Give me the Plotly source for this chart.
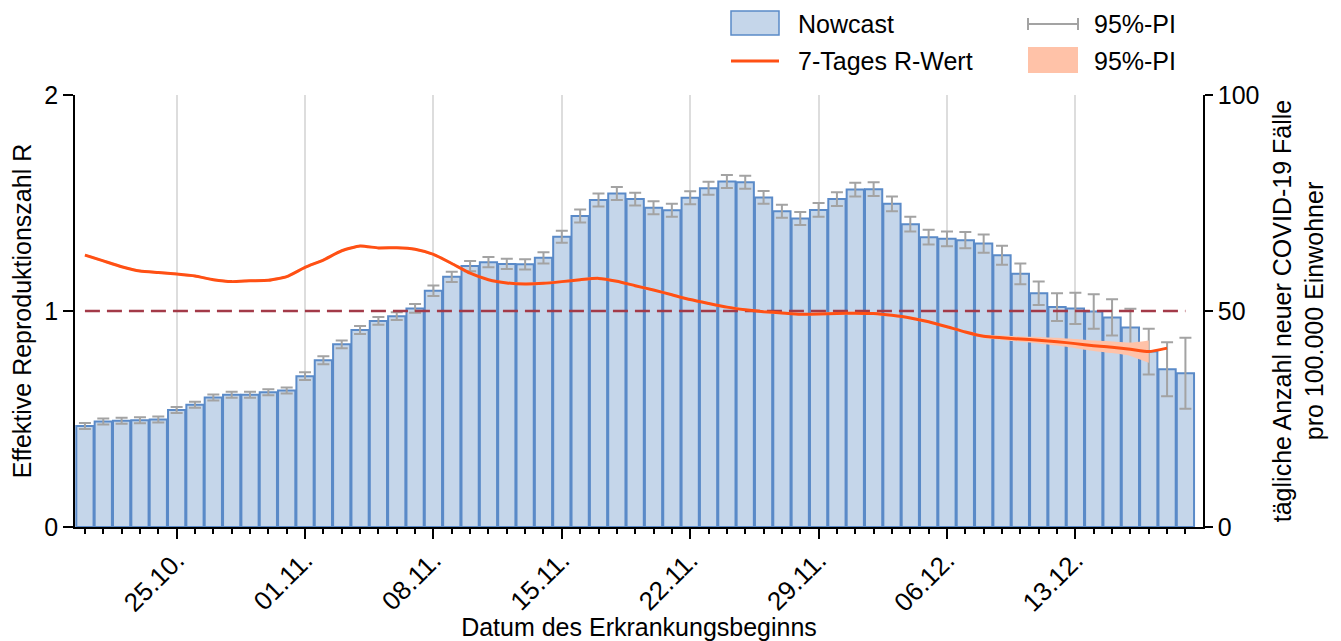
import plotly.graph_objects as go
import pandas as pd

# ---------------- data ----------------
dates = [d.strftime("%Y-%m-%d") for d in pd.date_range("2020-10-20", "2020-12-19", freq="D")]

nowcast = [23.4, 24.4, 24.6, 24.7, 24.9, 27.1, 28.3, 30.0, 30.6, 30.6, 31.2, 31.6,
           34.9, 38.6, 42.3, 45.6, 47.7, 48.8, 50.6, 54.7, 57.9, 60.4, 61.3, 60.9,
           60.8, 62.3, 67.2, 72.0, 75.7, 77.2, 75.9, 73.9, 73.3, 76.2, 78.4, 80.0,
           79.8, 76.3, 73.1, 71.4, 73.4, 75.9, 78.1, 78.2, 74.8, 70.1, 67.1, 66.7,
           66.4, 65.6, 62.9, 58.6, 54.1, 50.9, 50.6, 49.9, 48.5, 46.2, 40.6, 36.5,
           35.6]
nowcast_pi = [0.7, 0.7, 0.7, 0.7, 0.7, 0.7, 0.7, 0.7, 0.7, 0.7, 0.7, 0.7,
              0.9, 0.9, 0.9, 0.9, 0.9, 0.9, 1.0, 1.2, 1.2, 1.2, 1.2, 1.2,
              1.2, 1.3, 1.4, 1.5, 1.5, 1.5, 1.5, 1.5, 1.5, 1.5, 1.5, 1.5,
              1.5, 1.5, 1.5, 1.5, 1.6, 1.6, 1.6, 1.6, 1.7, 1.7, 1.7, 1.7,
              1.9, 2.1, 2.2, 2.4, 2.7, 3.2, 3.6, 4.0, 4.2, 4.3, 5.3, 6.25,
              8.2]

r_dates = dates[:-1]
r_value = [1.259, 1.232, 1.205, 1.185, 1.178, 1.171, 1.162, 1.145, 1.136, 1.140,
           1.142, 1.159, 1.202, 1.236, 1.279, 1.301, 1.292, 1.293, 1.286, 1.262,
           1.220, 1.175, 1.145, 1.130, 1.125, 1.128, 1.136, 1.145, 1.151, 1.138,
           1.117, 1.097, 1.075, 1.053, 1.035, 1.018, 1.006, 0.997, 0.991, 0.985,
           0.986, 0.989, 0.990, 0.988, 0.980, 0.968, 0.950, 0.927, 0.903, 0.883,
           0.876, 0.870, 0.865, 0.858, 0.849, 0.839, 0.832, 0.823, 0.812, 0.828]
r_pi = [0.006] * 49 + [0.008, 0.010, 0.012, 0.015, 0.018, 0.021, 0.024, 0.027, 0.031, 0.052]

r_threshold = 1.0

# ---------------- styles ----------------
FONT = "Liberation Sans, Arial, sans-serif"
BAR_FILL = "#C5D6EA"
BAR_LINE = "#5A8AC8"
ERR_COL = "#A3A3A3"
R_COL = "#FF5014"
BAND_COL = "#FFC2A8"
DASH_COL = "#A33A48"

# the page body has an 8px default margin; the figure starts at (8, 8)
OFF = 8
W, H = 1341 - OFF, 641 - OFF
PLOT_X0, PLOT_X1, PLOT_Y0, PLOT_Y1 = 75, 1203, 95, 527   # screen pixels
L = PLOT_X0 - OFF
T = PLOT_Y0 - OFF
PW, PH = PLOT_X1 - PLOT_X0, PLOT_Y1 - PLOT_Y0
R_ = W - L - PW
B = H - T - PH


def px(x):
    return (x - PLOT_X0) / PW


def py(y):
    return (PLOT_Y1 - y) / PH


fig = go.Figure()

fig.add_trace(go.Bar(
    x=dates, y=nowcast, name="Nowcast", yaxis="y",
    marker=dict(color=BAR_FILL, line=dict(color=BAR_LINE, width=2)),
    error_y=dict(type="data", array=nowcast_pi, color=ERR_COL, thickness=2, width=6),
    showlegend=False,
))

r_upper = [v + e for v, e in zip(r_value, r_pi)]
r_lower = [v - e for v, e in zip(r_value, r_pi)]
fig.add_trace(go.Scatter(
    x=r_dates, y=r_lower, mode="lines",
    line=dict(width=0, simplify=False, shape="spline", smoothing=0.5),
    yaxis="y2", showlegend=False, hoverinfo="skip",
))
fig.add_trace(go.Scatter(
    x=r_dates, y=r_upper, mode="lines",
    line=dict(width=0, simplify=False, shape="spline", smoothing=0.5),
    fill="tonexty", fillcolor=BAND_COL,
    yaxis="y2", name="95%-PI", showlegend=False, hoverinfo="skip",
))

fig.add_trace(go.Scatter(
    x=[dates[0], dates[-1]], y=[r_threshold, r_threshold], mode="lines",
    line=dict(color=DASH_COL, width=2.5, dash="15px,7px"),
    yaxis="y2", showlegend=False, hoverinfo="skip",
))

fig.add_trace(go.Scatter(
    x=r_dates, y=r_value, mode="lines", name="7-Tages R-Wert",
    line=dict(color=R_COL, width=3, simplify=False, shape="spline", smoothing=0.5),
    yaxis="y2", showlegend=False,
))

# ---------------- manual legend ----------------
shapes = [
    dict(type="rect", xref="paper", yref="paper", x0=px(731), x1=px(779), y0=py(35), y1=py(11),
         fillcolor=BAR_FILL, line=dict(color=BAR_LINE, width=1.5)),
    dict(type="line", xref="paper", yref="paper", x0=px(731), x1=px(779), y0=py(61), y1=py(61),
         line=dict(color=R_COL, width=3)),
    dict(type="line", xref="paper", yref="paper", x0=px(1028), x1=px(1078), y0=py(24), y1=py(24),
         line=dict(color=ERR_COL, width=2)),
    dict(type="line", xref="paper", yref="paper", x0=px(1028), x1=px(1028), y0=py(18), y1=py(30),
         line=dict(color=ERR_COL, width=2)),
    dict(type="line", xref="paper", yref="paper", x0=px(1078), x1=px(1078), y0=py(18), y1=py(30),
         line=dict(color=ERR_COL, width=2)),
    dict(type="rect", xref="paper", yref="paper", x0=px(1028), x1=px(1078), y0=py(73), y1=py(47),
         fillcolor=BAND_COL, line=dict(width=0)),
]
annotations = []
for text, x, y in [("Nowcast", 796, 24), ("7-Tages R-Wert", 796, 61), ("95%-PI", 1092, 24), ("95%-PI", 1092, 61)]:
    annotations.append(dict(text=text, xref="paper", yref="paper", x=px(x), y=py(y),
                            xanchor="left", yanchor="middle", showarrow=False,
                            font=dict(family=FONT, size=25, color="black")))

fig.update_layout(
    width=W, height=H,
    margin=dict(l=L, r=R_, t=T, b=B, pad=0, autoexpand=False),
    paper_bgcolor="white", plot_bgcolor="white",
    font=dict(family=FONT, size=24, color="black"),
    bargap=0.06,
    shapes=shapes, annotations=annotations,
    xaxis=dict(
        type="date", automargin=False,
        range=["2020-10-19 11:00", "2020-12-19 23:00"],
        tick0="2020-10-25", dtick=7 * 86400000,
        tickformat="%d.%m.", tickangle=-45, tickfont=dict(size=26),
        ticklabelstandoff=-4,
        ticks="outside", ticklen=10, tickwidth=1.5, tickcolor="black",
        showline=True, linecolor="black", linewidth=1.5,
        showgrid=True, gridcolor="#DDDDDD", gridwidth=2,
        minor=dict(dtick=86400000, ticks="outside", ticklen=5, tickwidth=1.5, tickcolor="black", showgrid=False),
        title=dict(text="Datum des Erkrankungsbeginns", font=dict(size=25)),
        zeroline=False,
    ),
    yaxis=dict(
        side="right", range=[0, 100], tickvals=[0, 50, 100], automargin=False,
        ticks="outside", ticklen=8, tickwidth=1.5, tickcolor="black",
        showline=True, linecolor="black", linewidth=1.5,
        showgrid=False, zeroline=False, tickfont=dict(size=25),
        title=dict(text="tägliche Anzahl neuer COVID-19 Fälle<br>pro 100.000 Einwohner", font=dict(size=25)),
    ),
    yaxis2=dict(
        overlaying="y", side="left", range=[0, 2], tickvals=[0, 1, 2], automargin=False,
        ticks="outside", ticklen=10, tickwidth=1.5, tickcolor="black",
        showline=True, linecolor="black", linewidth=1.5,
        showgrid=False, zeroline=False, tickfont=dict(size=25),
        title=dict(text="Effektive Reproduktionszahl R", font=dict(size=25)),
    ),
)

fig.write_html("out.html")
